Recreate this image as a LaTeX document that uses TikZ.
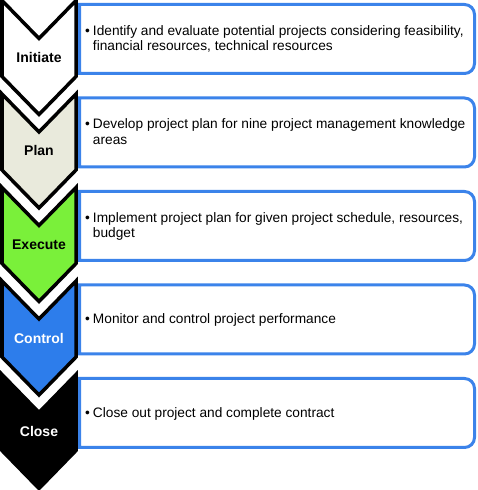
\documentclass[tikz,border=0pt]{standalone}
\usepackage{fontspec}
\setmainfont{Liberation Sans}
\definecolor{boxblue}{RGB}{59,131,234}
\definecolor{planfill}{RGB}{233,234,220}
\definecolor{execfill}{RGB}{122,240,58}
\definecolor{ctrlfill}{RGB}{45,125,235}
\newcommand{\bulletlines}[1]{\textbullet\hspace{3pt}\begin{tabular}[t]{@{}l@{}}#1\end{tabular}}
\begin{document}
\begin{tikzpicture}[x=1pt, y=1pt,
      chevron/.style={draw=black, line width=3.5pt, line join=miter},
      stagebox/.style={draw=boxblue, line width=3pt, fill=white},
      stagelabel/.style={font=\fontsize{14}{16}\selectfont\bfseries, inner sep=0pt},
      stagetext/.style={font=\fontsize{13.7}{15.6}\selectfont, anchor=west, inner sep=0pt}]
      \useasboundingbox (0,0) rectangle (478,490);
      % chevrons
      \draw[chevron, fill=white] (2,489.5) -- (39,451.5) -- (76,489.5) -- (76,413.5) -- (39,375.5) -- (2,413.5) -- cycle;
      \draw[chevron, fill=planfill] (2,396) -- (39,358) -- (76,396) -- (76,320) -- (39,282) -- (2,320) -- cycle;
      \draw[chevron, fill=execfill] (2,302.5) -- (39,264.5) -- (76,302.5) -- (76,226.5) -- (39,188.5) -- (2,226.5) -- cycle;
      \draw[chevron, fill=ctrlfill] (2,209) -- (39,171) -- (76,209) -- (76,133) -- (39,95) -- (2,133) -- cycle;
      \draw[chevron, fill=black] (2,115.5) -- (39,77.5) -- (76,115.5) -- (76,39.5) -- (39,1.5) -- (2,39.5) -- cycle;
      \node[stagelabel] (initiate) at (39,432.5) {Initiate};
      \node[stagelabel] (plan) at (39,339) {Plan};
      \node[stagelabel] (execute) at (39,245.5) {Execute};
      \node[stagelabel, text=white] (control) at (39,152) {Control};
      \node[stagelabel, text=white] (close) at (39,58.5) {Close};
      % boxes
      \draw[stagebox] (79.5,416.5) -- (79.5,485.5) -- (464.5,485.5) arc[start angle=90, end angle=0, radius=10] -- (474.5,426.5) arc[start angle=0, end angle=-90, radius=10] -- cycle;
      \draw[stagebox] (79.5,323) -- (79.5,392) -- (464.5,392) arc[start angle=90, end angle=0, radius=10] -- (474.5,333) arc[start angle=0, end angle=-90, radius=10] -- cycle;
      \draw[stagebox] (79.5,229.5) -- (79.5,298.5) -- (464.5,298.5) arc[start angle=90, end angle=0, radius=10] -- (474.5,239.5) arc[start angle=0, end angle=-90, radius=10] -- cycle;
      \draw[stagebox] (79.5,136) -- (79.5,205) -- (464.5,205) arc[start angle=90, end angle=0, radius=10] -- (474.5,146) arc[start angle=0, end angle=-90, radius=10] -- cycle;
      \draw[stagebox] (79.5,42.5) -- (79.5,111.5) -- (464.5,111.5) arc[start angle=90, end angle=0, radius=10] -- (474.5,52.5) arc[start angle=0, end angle=-90, radius=10] -- cycle;
      % box texts
      \node[stagetext] (initiatetext) at (85,450) {\bulletlines{Identify and evaluate potential projects considering feasibility,\\financial resources, technical resources}};
      \node[stagetext] (plantext) at (85,356.5) {\bulletlines{Develop project plan for nine project management knowledge\\areas}};
      \node[stagetext] (executetext) at (85,263) {\bulletlines{Implement project plan for given project schedule, resources,\\budget}};
      \node[stagetext] (controltext) at (85,169.5) {\bulletlines{Monitor and control project performance}};
      \node[stagetext] (closetext) at (85,76) {\bulletlines{Close out project and complete contract}};
\end{tikzpicture}
\end{document}
